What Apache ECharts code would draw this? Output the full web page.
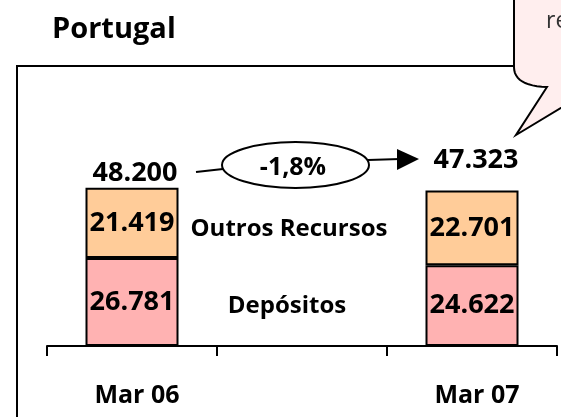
<!DOCTYPE html>
<html>
<head>
<meta charset="utf-8">
<script src="https://cdn.jsdelivr.net/npm/echarts@6/dist/echarts.min.js"></script>
<style>
html,body{margin:0;padding:0;background:#fff;}
#c{width:561px;height:417px;}
</style>
</head>
<body>
<div id="c"></div>
<script>
// ---- data ----
var categories = ['Mar 06', '', 'Mar 07'];
var seriesNames = ['Depósitos', 'Outros Recursos'];
var depositos = [26781, null, 24622];
var outrosRecursos = [21419, null, 22701];
var totals = [48200, null, 47323];
var changeLabel = '-1,8%';
var titleText = 'Portugal';
var calloutText = 're';

var FONT = "'Open Sans', 'Liberation Sans', sans-serif";

function fmt(v) {
  return String(v).replace(/\B(?=(\d{3})+(?!\d))/g, '.');
}

// callout outline (with a rounded corner made of a quadratic curve)
function calloutPoints() {
  var pts = [[514, -3], [514, 67]];
  var p0 = [514, 67], c = [514, 86], p1 = [547, 87];
  for (var i = 1; i <= 12; i++) {
    var t = i / 12, u = 1 - t;
    pts.push([u * u * p0[0] + 2 * u * t * c[0] + t * t * p1[0],
              u * u * p0[1] + 2 * u * t * c[1] + t * t * p1[1]]);
  }
  pts.push([516, 135], [564, 106], [564, -3]);
  return pts;
}

var chart = echarts.init(document.getElementById('c'), null, {renderer: 'canvas'});

var totalOffsets = [[3, -14], null, [4, -30]];
var totalData = [];
totals.forEach(function (v, i) {
  if (v != null) totalData.push({value: [i, v], label: {offset: totalOffsets[i]}});
});

var labelStyle = {
  show: true, position: 'inside', color: '#000',
  fontFamily: FONT, fontWeight: 'bold', fontSize: 27,
  formatter: function (p) { return fmt(p.value); }
};

chart.setOption({
  animation: false,
  backgroundColor: '#fff',
  grid: {left: 47, right: 4, top: 149, bottom: 71, containLabel: false},
  xAxis: {
    type: 'category',
    data: categories,
    boundaryGap: true,
    axisLine: {show: true, lineStyle: {color: '#000', width: 2}},
    axisTick: {show: true, length: 10, lineStyle: {color: '#000', width: 2}},
    axisLabel: {
      color: '#000', fontFamily: FONT, fontWeight: 'bold', fontSize: 25,
      margin: 37, padding: [0, 0, 0, 10]
    },
    splitLine: {show: false}
  },
  yAxis: {
    type: 'value', min: 0, max: 60000, show: false,
    splitLine: {show: false}
  },
  series: [
    {
      name: seriesNames[0], type: 'bar', stack: 'total', barWidth: 93,
      data: depositos,
      itemStyle: {color: '#FFB2B2', borderColor: '#000', borderWidth: 2},
      label: labelStyle
    },
    {
      name: seriesNames[1], type: 'bar', stack: 'total', barWidth: 93,
      data: outrosRecursos,
      itemStyle: {color: '#FFCC99', borderColor: '#000', borderWidth: 2},
      label: labelStyle
    },
    {
      name: 'Total', type: 'scatter', symbolSize: 0, z: 5,
      data: totalData,
      itemStyle: {opacity: 1},
      label: {
        show: true, position: 'inside', color: '#000',
        fontFamily: FONT, fontWeight: 'bold', fontSize: 27,
        formatter: function (p) { return fmt(p.value[1]); }
      }
    }
  ],
  graphic: [
    {type: 'polyline', shape: {points: [[17, 418], [17, 66], [514, 66]]},
     style: {stroke: '#000', lineWidth: 2, fill: null}, z: 1},
    {type: 'polygon', shape: {points: calloutPoints()},
     style: {fill: '#FFEEEE', stroke: '#000', lineWidth: 2}, z: 2},
    {type: 'text', x: 546, y: 21, z: 3,
     style: {text: calloutText, fill: '#333', font: "23px " + FONT, textVerticalAlign: 'middle'}},
    {type: 'text', x: 52, y: 30, z: 3,
     style: {text: titleText, fill: '#000', font: "bold 29px " + FONT, textVerticalAlign: 'middle'}},
    {type: 'text', x: 289, y: 229, z: 3,
     style: {text: seriesNames[1], fill: '#000', font: "bold 24px " + FONT, textAlign: 'center', textVerticalAlign: 'middle'}},
    {type: 'text', x: 287, y: 306, z: 3,
     style: {text: seriesNames[0], fill: '#000', font: "bold 24px " + FONT, textAlign: 'center', textVerticalAlign: 'middle'}},
    {type: 'line', shape: {x1: 196, y1: 172, x2: 223, y2: 169}, style: {stroke: '#000', lineWidth: 2}, z: 3},
    {type: 'line', shape: {x1: 368, y1: 160, x2: 400, y2: 159}, style: {stroke: '#000', lineWidth: 2}, z: 3},
    {type: 'polygon', shape: {points: [[397, 149], [419, 159], [397, 170]]}, style: {fill: '#000'}, z: 3},
    {type: 'ellipse', shape: {cx: 295.5, cy: 165, rx: 73.5, ry: 23},
     style: {fill: '#fff', stroke: '#000', lineWidth: 2}, z: 3},
    {type: 'text', x: 293, y: 168, z: 4,
     style: {text: changeLabel, fill: '#000', font: "bold 25px " + FONT, textAlign: 'center', textVerticalAlign: 'middle'}}
  ]
});
</script>
</body>
</html>
